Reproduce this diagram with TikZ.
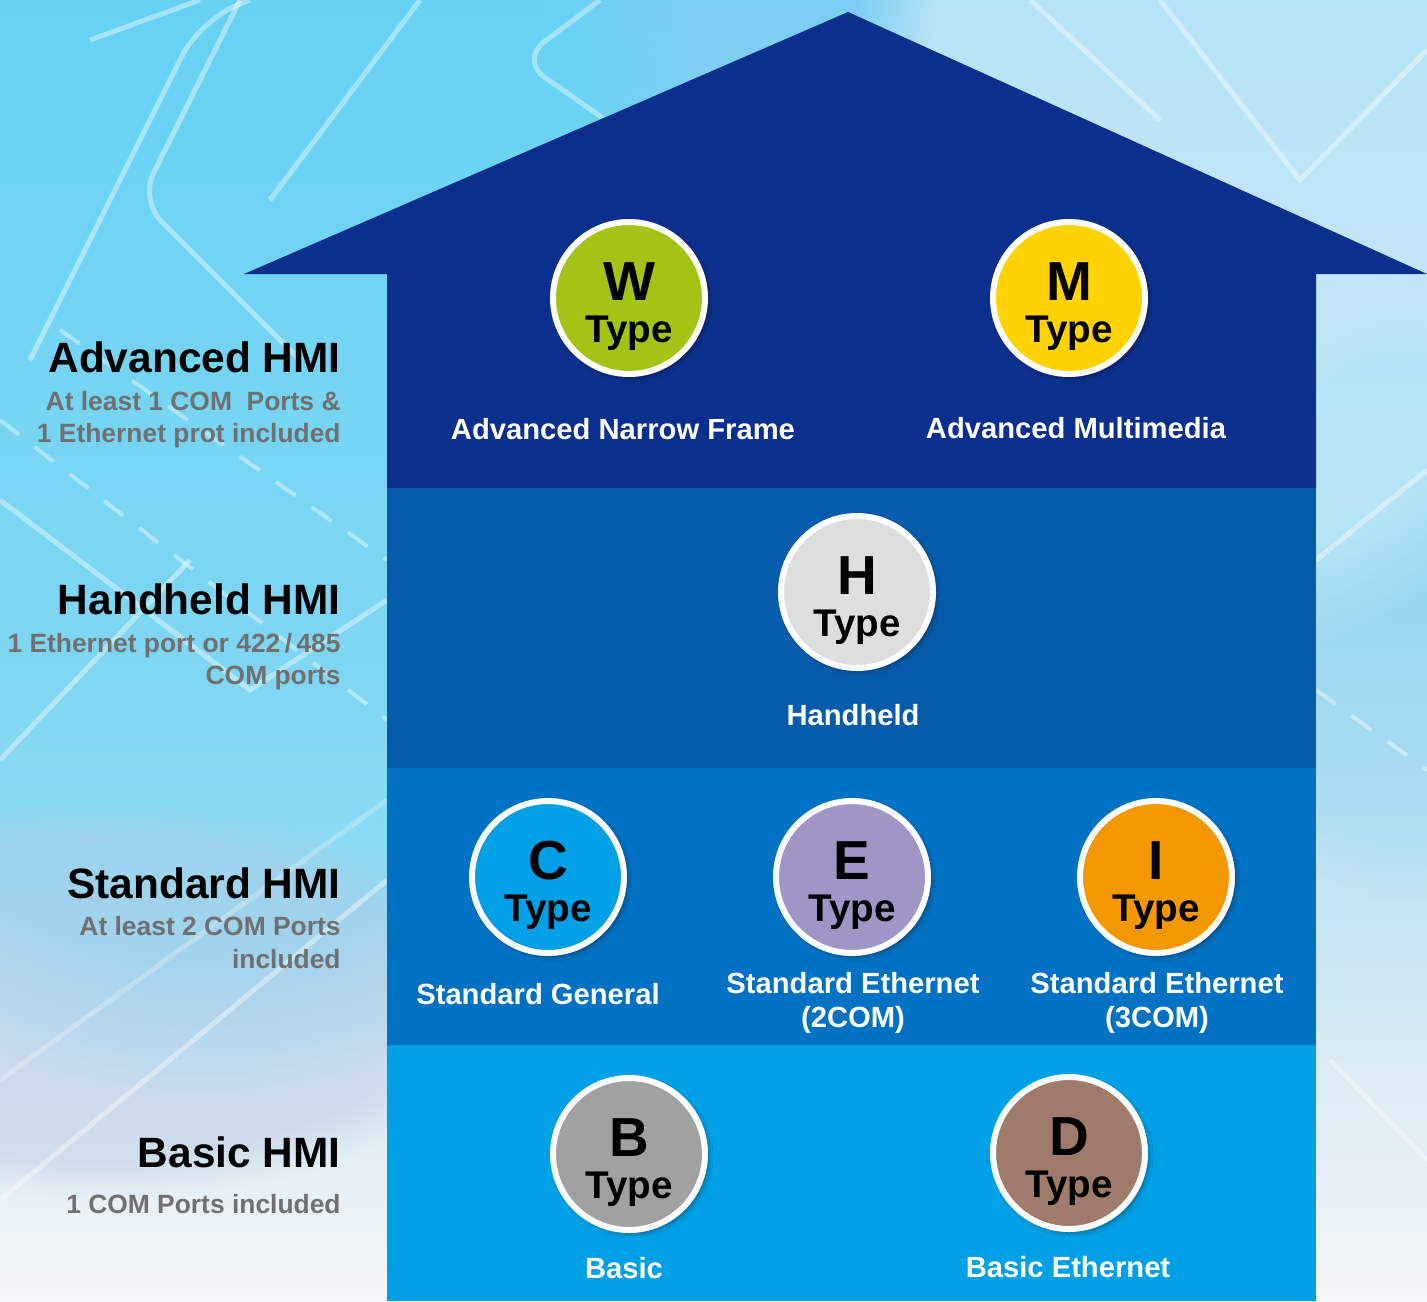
\documentclass[tikz,border=0pt]{standalone}
\usepackage{fontspec}
\setmainfont{Liberation Sans}
\usetikzlibrary{shadows.blur,calc,fadings}
\definecolor{bgtop}{HTML}{7ACDF3}
\definecolor{bgmid}{HTML}{AAD8F0}
\definecolor{bgbot}{HTML}{F4F6F8}
\definecolor{bgcyan}{HTML}{55D6F6}
\definecolor{bglav}{HTML}{B8C8E4}
\definecolor{bandA}{HTML}{0B2F8C}
\definecolor{bandB}{HTML}{065CAB}
\definecolor{bandC}{HTML}{0071C3}
\definecolor{bandD}{HTML}{00A0E6}
\definecolor{cW}{HTML}{A3C315}
\definecolor{cM}{HTML}{FFD200}
\definecolor{cH}{HTML}{DDDEDE}
\definecolor{cC}{HTML}{00A0E6}
\definecolor{cE}{HTML}{A096C6}
\definecolor{cI}{HTML}{F39800}
\definecolor{cB}{HTML}{A0A1A0}
\definecolor{cD}{HTML}{9E7B6B}
\definecolor{subgray}{HTML}{707070}
\begin{document}
\begin{tikzpicture}[x=0.5pt,y=-0.5pt,
  typecircle/.style={circle, draw=white, line width=3pt, minimum size=76pt, inner sep=0pt,
    blur shadow={shadow xshift=1.5pt, shadow yshift=-1.5pt, shadow blur radius=2.5pt, shadow opacity=45}},
  letter/.style={anchor=base, inner sep=0pt, font=\fontsize{27.5}{30}\selectfont\bfseries},
  typeword/.style={anchor=base, inner sep=0pt, font=\fontsize{19.3}{22}\selectfont\bfseries},
  caption/.style={anchor=base, inner sep=0pt, text=white, font=\fontsize{14.6}{17}\selectfont\bfseries},
  hmi/.style={anchor=base east, inner sep=0pt, font=\fontsize{21.2}{24}\selectfont\bfseries},
  hmisub/.style={anchor=base east, inner sep=0pt, text=subgray, font=\fontsize{13.2}{16}\selectfont\bfseries},
  deco/.style={white, line width=2.5pt, opacity=0.4},
  decodash/.style={white, line width=2pt, opacity=0.4, dash pattern=on 12pt off 10pt}]
\useasboundingbox (0,0) rectangle (1427,1301);
% background
\shade[top color=bgtop, bottom color=bgbot, middle color=bgmid] (0,0) rectangle (1427,1301);
\fill[bgcyan, opacity=0.5, path fading=circle with fuzzy edge 20 percent] (-350,-350) rectangle (750,1100);
\fill[bglav, opacity=0.45, path fading=circle with fuzzy edge 20 percent] (-300,800) rectangle (500,1200);
\fill[white, opacity=0.45, path fading=circle with fuzzy edge 20 percent] (850,-450) rectangle (1650,650);
\fill[bgcyan, opacity=0.15, path fading=circle with fuzzy edge 20 percent] (1200,300) rectangle (1600,900);
% decorative lines
\draw[deco] (90,40) -- (200,0);
\draw[deco, rounded corners=20pt] (30,360) -- (200,20) -- (250,0);
\draw[deco, rounded corners=15pt] (240,0) -- (140,200) -- (300,360);
\draw[deco] (0,500) -- (250,690) -- (387,600);
\draw[deco] (0,760) -- (190,560);
\draw[decodash] (0,420) -- (387,720);
\draw[decodash] (60,330) -- (387,560);
\draw[deco] (270,200) -- (420,0);
\draw[deco, rounded corners=15pt] (600,0) -- (520,60) -- (620,130);
\draw[deco] (0,1200) -- (387,880);
\draw[deco, opacity=0.25] (0,1080) -- (387,800);
\draw[deco] (1030,0) -- (1160,120);
\draw[deco] (1160,0) -- (1300,180) -- (1427,50);
\draw[deco] (1316,560) -- (1427,470);
\draw[decodash] (1316,690) -- (1427,770);
\draw[deco] (1330,1060) -- (1427,1160);
% house
\fill[bandA] (848,12) -- (1427,274) -- (1316,274) -- (1316,488) -- (387,488) -- (387,274) -- (244,274) -- cycle;
\fill[bandB] (387,488) rectangle (1316,768);
\fill[bandC] (387,768) rectangle (1316,1045);
\fill[bandD] (387,1045) rectangle (1316,1301);
% circles
\node[typecircle, fill=cW] (w) at (629,298) {};
\node[typecircle, fill=cM] (m) at (1069,298) {};
\node[typecircle, fill=cH] (h) at (857,592) {};
\node[typecircle, fill=cC] (c) at (548,877) {};
\node[typecircle, fill=cE] (e) at (852,877) {};
\node[typecircle, fill=cI] (i) at (1156,877) {};
\node[typecircle, fill=cB] (b) at (629,1154) {};
\node[typecircle, fill=cD] (d) at (1069,1153) {};
\foreach \n/\l in {w/W,m/M,h/H,c/C,e/E,i/I,b/B,d/D}{
  \node[letter] (\n-l) at ($(\n.center)+(0,2)$) {\l};
  \node[typeword] (\n-t) at ($(\n.center)+(0,44)$) {Type};
}
% captions
\node[caption] (capw) at (623,439) {Advanced Narrow Frame};
\node[caption] (capm) at (1076,438) {Advanced Multimedia};
\node[caption] (caph) at (853,725) {Handheld};
\node[caption] (capc) at (538,1004) {Standard General};
\node[caption] (cape1) at (853,993) {Standard Ethernet};
\node[caption] (cape2) at (853,1027) {(2COM)};
\node[caption] (capi1) at (1157,993) {Standard Ethernet};
\node[caption] (capi2) at (1157,1027) {(3COM)};
\node[caption] (capb) at (624,1278) {Basic};
\node[caption] (capd) at (1068,1277) {Basic Ethernet};
% left texts
\node[hmi] (adv) at (341,372) {Advanced HMI};
\node[hmisub] (adv1) at (341,410) {At least 1 COM\ \ Ports \&};
\node[hmisub] (adv2) at (341,442) {1 Ethernet prot included};
\node[hmi] (hand) at (341,614) {Handheld HMI};
\node[hmisub] (hand1) at (341,652) {1 Ethernet port or 422\,/\,485};
\node[hmisub] (hand2) at (341,684) {COM ports};
\node[hmi] (std) at (341,898) {Standard HMI};
\node[hmisub] (std1) at (341,935) {At least 2 COM Ports};
\node[hmisub] (std2) at (341,968) {included};
\node[hmi] (bas) at (341,1167) {Basic HMI};
\node[hmisub] (bas1) at (341,1213) {1 COM Ports included};
\end{tikzpicture}
\end{document}
